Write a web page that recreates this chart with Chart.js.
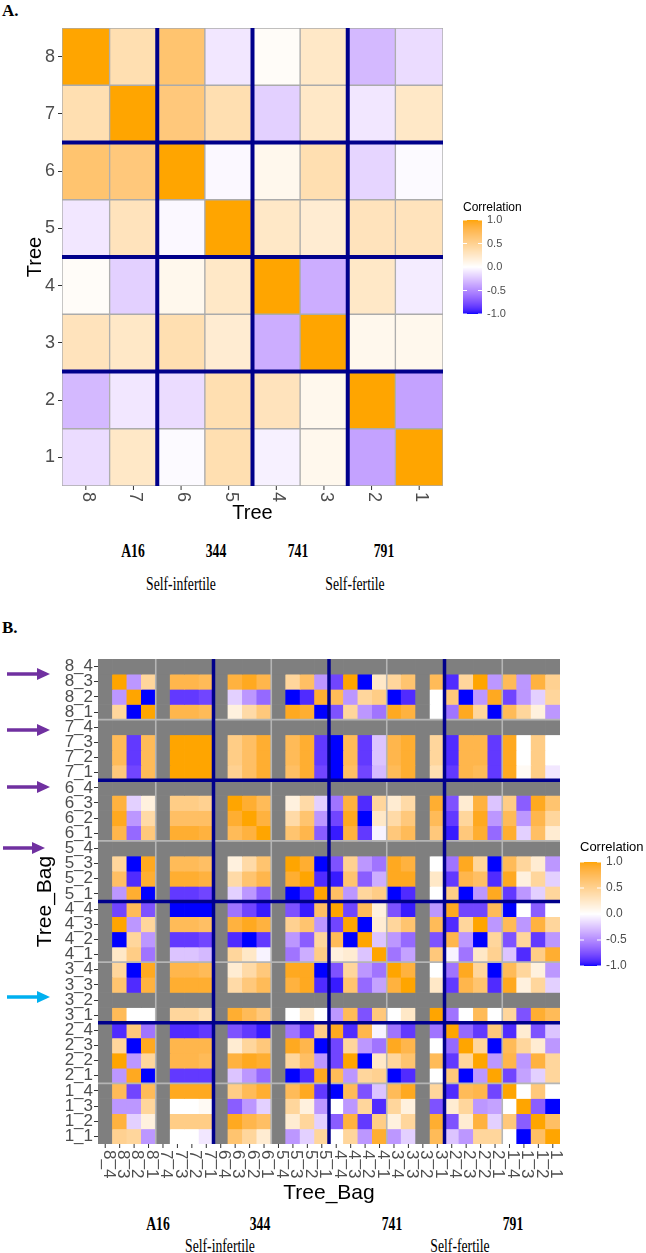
<!DOCTYPE html>
<html>
<head>
<meta charset="utf-8">
<script src="https://cdn.jsdelivr.net/npm/chart.js@4.4.0/dist/chart.umd.min.js"></script>
<style>
  body { margin: 0; background: #fff; width: 646px; height: 1253px; position: relative; overflow: hidden; }
  canvas { position: absolute; left: 0; }
  #chartA { top: 0; }
  #chartB { top: 640px; }
  .txt { position: absolute; font-family: "Liberation Serif", "Times New Roman", serif; font-size: 18px; color: #000;
         white-space: nowrap; transform: translate(-50%, -50%) scaleX(0.76); }
  .bold { font-weight: bold; }
  .panel { position: absolute; left: 2px; font-family: "Liberation Serif", "Times New Roman", serif; font-weight: bold; font-size: 17px; }
  svg { position: absolute; left: 0; top: 0; }
</style>
</head>
<body>
<div class="panel" style="top:1px">A.</div>
<canvas id="chartA" width="646" height="530"></canvas>

<div class="txt bold" style="left:133px; top:551px">A16</div>
<div class="txt bold" style="left:216px; top:551px">344</div>
<div class="txt bold" style="left:298px; top:551px">741</div>
<div class="txt bold" style="left:384px; top:551px">791</div>
<div class="txt" style="left:181px; top:584px">Self-infertile</div>
<div class="txt" style="left:355px; top:584px">Self-fertile</div>

<div class="panel" style="top:618px">B.</div>
<canvas id="chartB" width="646" height="570"></canvas>

<div class="txt bold" style="left:158px; top:1224px">A16</div>
<div class="txt bold" style="left:260px; top:1224px">344</div>
<div class="txt bold" style="left:392px; top:1224px">741</div>
<div class="txt bold" style="left:513px; top:1224px">791</div>
<div class="txt" style="left:220px; top:1246px">Self-infertile</div>
<div class="txt" style="left:460px; top:1246px">Self-fertile</div>

<svg width="646" height="1253">
  <g fill="#7030A0" stroke="#7030A0">
    <line x1="7" y1="674" x2="40" y2="674" stroke-width="3.5"/><polygon points="37,668 50,674 37,680" stroke="none"/>
    <line x1="7" y1="730" x2="40" y2="730" stroke-width="3.5"/><polygon points="37,724 50,730 37,736" stroke="none"/>
    <line x1="7" y1="787" x2="40" y2="787" stroke-width="3.5"/><polygon points="37,781 50,787 37,793" stroke="none"/>
    <line x1="3" y1="848" x2="35" y2="848" stroke-width="3.5"/><polygon points="32,842 45,848 32,854" stroke="none"/>
  </g>
  <g fill="#00B0F0" stroke="#00B0F0">
    <line x1="7" y1="997" x2="40" y2="997" stroke-width="3.5"/><polygon points="37,991 50,997 37,1003" stroke="none"/>
  </g>
</svg>

<script>
const FONT = '"Liberation Sans", Arial, sans-serif';
const NA = null;
const NA_COLOR = '#7F7F7F';
const NAVY = '#00008B';

// Panel A: tree x tree correlations (rows top to bottom = trees 8..1, columns left to right = trees 8..1)
const treeLabels = ['8', '7', '6', '5', '4', '3', '2', '1'];
const tree8 = [1, 0.35, 0.65, -0.1, 0.03, 0.25, -0.3, -0.15];
const tree7 = [0.35, 1, 0.6, 0.35, -0.2, 0.25, -0.1, 0.25];
const tree6 = [0.65, 0.6, 1, -0.03, 0.08, 0.35, -0.18, -0.02];
const tree5 = [-0.1, 0.3, -0.03, 1, 0.25, 0.2, 0.3, 0.3];
const tree4 = [0.03, -0.2, 0.08, 0.25, 1, -0.35, 0.25, -0.08];
const tree3 = [0.3, 0.25, 0.35, 0.2, -0.35, 1, 0.08, 0.08];
const tree2 = [-0.3, -0.1, -0.15, 0.35, 0.3, 0.08, 1, -0.4];
const tree1 = [-0.15, 0.25, -0.02, 0.35, -0.06, 0.08, -0.4, 1];
const treeCorr = [tree8, tree7, tree6, tree5, tree4, tree3, tree2, tree1];

// Panel B: tree_bag x tree_bag correlations
const bagLabels = ['8_4', '8_3', '8_2', '8_1', '7_4', '7_3', '7_2', '7_1',
                   '6_4', '6_3', '6_2', '6_1', '5_4', '5_3', '5_2', '5_1',
                   '4_4', '4_3', '4_2', '4_1', '3_4', '3_3', '3_2', '3_1',
                   '2_4', '2_3', '2_2', '2_1', '1_4', '1_3', '1_2', '1_1'];

// rows 8_4 .. 5_1, all 32 columns
const bagUpper = [
  [NA, NA, NA, NA, NA, NA, NA, NA, NA, NA, NA, NA, NA, NA, NA, NA, NA, NA, NA, NA, NA, NA, NA, NA, NA, NA, NA, NA, NA, NA, NA, NA],
  [NA, 1, -0.45, 0.45, NA, 0.8, 0.8, 0.75, NA, 0.85, 0.95, 0.8, NA, 0.45, 0.7, -0.45, -0.8, 1, -1, 0.25, 0.45, 0.65, NA, 0.75, -0.9, 0.45, 1, -0.45, 0.75, -0.45, 0.85, 0.5],
  [NA, -0.45, 1, -1, NA, -0.85, -0.85, -0.8, NA, -0.2, -0.45, -0.65, NA, -1, -0.9, 0.9, 0.75, -0.45, 0.45, 0.55, -1, -0.9, NA, 0, 0.6, -1, -0.45, 0.95, -0.8, -0.45, -0.2, 0.45],
  [NA, 0.45, -1, 1, NA, 0.8, 0.8, 0.75, NA, 0.15, 0.4, 0.6, NA, 0.95, 0.9, -1, -0.75, 0.45, -0.45, -0.6, 0.95, 0.85, NA, 0, -0.6, 0.95, 0.45, -1, 0.75, 0.45, 0.15, -0.45],
  [NA, NA, NA, NA, NA, NA, NA, NA, NA, NA, NA, NA, NA, NA, NA, NA, NA, NA, NA, NA, NA, NA, NA, NA, NA, NA, NA, NA, NA, NA, NA, NA],
  [NA, 0.75, -0.85, 0.75, NA, 1, 1, 1, NA, 0.55, 0.7, 0.9, NA, 0.75, 0.9, -0.85, -1, 0.75, -0.85, -0.25, 0.8, 0.9, NA, 0.45, -0.9, 0.8, 0.8, -0.85, 0.95, 0, 0.55, 0],
  [NA, 0.75, -0.85, 0.75, NA, 1, 1, 1, NA, 0.55, 0.7, 0.9, NA, 0.75, 0.9, -0.85, -1, 0.75, -0.85, -0.25, 0.8, 0.9, NA, 0.45, -0.9, 0.8, 0.8, -0.85, 0.95, 0, 0.55, 0],
  [NA, 0.6, -0.8, 0.75, NA, 1, 1, 1, NA, 0.5, 0.7, 0.9, NA, 0.7, 0.9, -0.8, -1, 0.7, -0.8, -0.3, 0.75, 0.9, NA, 0.35, -0.85, 0.8, 0.75, -0.85, 0.95, 0.05, 0.55, -0.1],
  [NA, NA, NA, NA, NA, NA, NA, NA, NA, NA, NA, NA, NA, NA, NA, NA, NA, NA, NA, NA, NA, NA, NA, NA, NA, NA, NA, NA, NA, NA, NA, NA],
  [NA, 0.85, -0.2, 0.15, NA, 0.55, 0.55, 0.5, NA, 1, 0.9, 0.75, NA, 0.15, 0.4, -0.2, -0.6, 0.85, -0.9, 0.45, 0.2, 0.4, NA, 0.9, -0.75, 0.2, 0.85, -0.25, 0.55, -0.7, 0.95, 0.65],
  [NA, 0.95, -0.45, 0.4, NA, 0.7, 0.7, 0.7, NA, 0.9, 1, 0.85, NA, 0.4, 0.65, -0.45, -0.8, 0.95, -1, 0.25, 0.4, 0.6, NA, 0.75, -0.85, 0.45, 0.95, -0.45, 0.75, -0.45, 0.8, 0.45],
  [NA, 0.8, -0.65, 0.6, NA, 0.9, 0.9, 0.85, NA, 0.75, 0.85, 1, NA, 0.65, 0.8, -0.7, -0.95, 0.85, -0.85, -0.05, 0.6, 0.75, NA, 0.6, -0.95, 0.6, 0.9, -0.65, 0.9, -0.2, 0.7, 0.2],
  [NA, NA, NA, NA, NA, NA, NA, NA, NA, NA, NA, NA, NA, NA, NA, NA, NA, NA, NA, NA, NA, NA, NA, NA, NA, NA, NA, NA, NA, NA, NA, NA],
  [NA, 0.45, -1, 0.95, NA, 0.75, 0.75, 0.7, NA, 0.15, 0.4, 0.65, NA, 1, 0.9, -1, -0.75, 0.5, -0.45, -0.6, 0.95, 0.85, NA, 0, -0.6, 0.95, 0.45, -1, 0.75, 0.45, 0.2, -0.45],
  [NA, 0.7, -0.9, 0.9, NA, 0.9, 0.9, 0.85, NA, 0.4, 0.65, 0.8, NA, 0.9, 1, -0.9, -0.95, 0.65, -0.7, -0.35, 0.95, 0.95, NA, 0.25, -0.85, 0.8, 0.7, -0.9, 0.95, 0.15, 0.45, -0.2],
  [NA, -0.45, 0.9, -1, NA, -0.85, -0.85, -0.8, NA, -0.2, -0.45, -0.7, NA, -1, -0.9, 1, 0.7, -0.45, 0.45, 0.55, -1, -0.9, NA, 0, 0.55, -1, -0.45, 0.95, -0.85, -0.45, -0.2, 0.45]
];

// rows 4_4 .. 1_1, columns 4_4 .. 1_1 (the rest is the mirror of bagUpper)
const bagLowerRight = [
  [1, -0.8, 0.75, 0.15, -0.75, -0.95, NA, -0.45, 0.95, -0.8, -0.8, 0.75, -1, 0, -0.7, 0],
  [-0.8, 1, -1, 0.2, 0.45, 0.65, NA, 0.75, -0.9, 0.45, 1, -0.45, 0.75, -0.45, 0.85, 0.45],
  [0.75, -1, 1, -0.25, -0.45, -0.65, NA, -0.75, 0.8, -0.45, -1, 0.45, -0.75, 0.45, -0.85, -0.45],
  [0.15, 0.2, -0.25, 1, -0.6, -0.4, NA, 0.6, -0.05, -0.6, 0.25, 0.5, -0.25, -0.9, 0.55, 0.9],
  [-0.75, 0.45, -0.45, -0.6, 1, 0.85, NA, 0, -0.6, 0.95, 0.45, -1, 0.75, 0.45, 0.15, -0.45],
  [-0.95, 0.65, -0.65, -0.4, 0.85, 1, NA, 0.25, -0.85, 0.8, 0.65, -0.9, 0.95, 0.15, 0.45, -0.2],
  [NA, NA, NA, NA, NA, NA, NA, NA, NA, NA, NA, NA, NA, NA, NA, NA],
  [-0.45, 0.75, -0.75, 0.6, 0, 0.25, NA, 1, -0.6, 0, 0.75, 0, 0.45, -0.75, 0.9, 0.75],
  [0.95, -0.9, 0.8, -0.05, -0.6, -0.85, NA, -0.6, 1, -0.65, -0.85, 0.6, -0.9, 0.2, -0.75, -0.25],
  [-0.8, 0.45, -0.45, -0.6, 0.95, 0.8, NA, 0, -0.65, 1, 0.45, -1, 0.75, 0.45, 0.2, -0.45],
  [-0.8, 1, -1, 0.25, 0.45, 0.65, NA, 0.75, -0.85, 0.45, 1, -0.45, 0.8, -0.45, 0.85, 0.45],
  [0.75, -0.45, 0.45, 0.5, -1, -0.9, NA, 0, 0.6, -1, -0.45, 1, -0.8, -0.4, -0.2, 0.45],
  [-1, 0.75, -0.75, -0.25, 0.75, 0.95, NA, 0.45, -0.9, 0.75, 0.8, -0.8, 1, 0, 0.6, 0],
  [0, -0.45, 0.45, -0.9, 0.45, 0.15, NA, -0.75, 0.2, 0.45, -0.45, -0.4, 0, 1, -0.7, -1],
  [-0.7, 0.85, -0.85, 0.55, 0.15, 0.45, NA, 0.9, -0.75, 0.2, 0.85, -0.2, 0.6, -0.7, 1, 0.7],
  [0, 0.45, -0.45, 0.9, -0.45, -0.2, NA, 0.75, -0.25, -0.45, 0.45, 0.45, 0, -1, 0.7, 1]
];

const legendBreaks = [1, 0.5, 0, -0.5, -1];

const bagCorr = bagLabels.map((_, i) => bagLabels.map((_, j) => {
    if (i < 16) return bagUpper[i][j];
    if (j < 16) return bagUpper[j][i];
    return bagLowerRight[i - 16][j - 16];
}));

// blue - white - orange, mixed in Lab like ggplot's gradient2
function toLab(hex) {
    const c = [1, 3, 5].map(i => parseInt(hex.slice(i, i + 2), 16) / 255)
        .map(u => u <= 0.04045 ? u / 12.92 : Math.pow((u + 0.055) / 1.055, 2.4));
    const X = (0.4124 * c[0] + 0.3576 * c[1] + 0.1805 * c[2]) / 0.95047;
    const Y = 0.2126 * c[0] + 0.7152 * c[1] + 0.0722 * c[2];
    const Z = (0.0193 * c[0] + 0.1192 * c[1] + 0.9505 * c[2]) / 1.08883;
    const f = t => t > 0.008856 ? Math.cbrt(t) : 7.787 * t + 16 / 116;
    return [116 * f(Y) - 16, 500 * (f(X) - f(Y)), 200 * (f(Y) - f(Z))];
}
function fromLab(L, a, b) {
    const fy = (L + 16) / 116, fx = fy + a / 500, fz = fy - b / 200;
    const inv = t => t * t * t > 0.008856 ? t * t * t : (t - 16 / 116) / 7.787;
    const X = inv(fx) * 0.95047, Y = inv(fy), Z = inv(fz) * 1.08883;
    const lin = [3.2406 * X - 1.5372 * Y - 0.4986 * Z, -0.9689 * X + 1.8758 * Y + 0.0415 * Z, 0.0557 * X - 0.2040 * Y + 1.0570 * Z];
    const g = lin.map(u => { u = Math.min(1, Math.max(0, u)); return u <= 0.0031308 ? 12.92 * u : 1.055 * Math.pow(u, 1 / 2.4) - 0.055; });
    return 'rgb(' + g.map(v => Math.round(v * 255)).join(',') + ')';
}
const LAB_LOW = toLab('#0000FF'), LAB_MID = toLab('#FFFFFF'), LAB_HIGH = toLab('#FFA500');
function corrColor(v) {
    if (v === null) return NA_COLOR;
    const end = v < 0 ? LAB_LOW : LAB_HIGH;
    const t = Math.min(1, Math.abs(v));
    return fromLab(...LAB_MID.map((m, k) => m + (end[k] - m) * t));
}

function decoPlugin(opt) {
    return {
        id: 'deco',
        afterDatasetsDraw(chart) {
            const { ctx, chartArea: a, scales: { x, y } } = chart;
            const labels = chart.data.labels;
            const n = labels.length;
            const colEdge = k => (x.getPixelForValue(k - 1) + x.getPixelForValue(k)) / 2;
            const rowEdge = k => y.getPixelForValue(n - k);
            ctx.save();
            const drawLines = (list, color, w) => {
                ctx.strokeStyle = color;
                ctx.lineWidth = w;
                list.forEach(k => {
                    ctx.beginPath(); ctx.moveTo(colEdge(k), a.top); ctx.lineTo(colEdge(k), a.bottom); ctx.stroke();
                    ctx.beginPath(); ctx.moveTo(a.left, rowEdge(k)); ctx.lineTo(a.right, rowEdge(k)); ctx.stroke();
                });
            };
            if (opt.lightLines) drawLines(opt.lightLines, '#B5B5B5', 1.6);
            drawLines(opt.navyLines, NAVY, opt.navyWidth);

            // x ticks and labels, rotated clockwise
            ctx.font = opt.tickSize + 'px ' + FONT;
            ctx.fillStyle = '#4D4D4D';
            ctx.strokeStyle = '#333';
            ctx.lineWidth = 1;
            labels.forEach((lab, i) => {
                const px = x.getPixelForValue(i);
                ctx.beginPath(); ctx.moveTo(px, a.bottom); ctx.lineTo(px, a.bottom + 4); ctx.stroke();
                ctx.save();
                ctx.translate(px + opt.xLabShift, a.bottom + 6);
                ctx.rotate(Math.PI / 2);
                ctx.textAlign = 'left';
                ctx.textBaseline = 'middle';
                ctx.fillText(lab, 0, 0);
                ctx.restore();
            });

            // axis titles
            ctx.fillStyle = '#000';
            ctx.font = opt.titleSize + 'px ' + FONT;
            ctx.textAlign = 'center';
            ctx.textBaseline = 'middle';
            ctx.fillText(opt.title, (a.left + a.right) / 2, opt.xTitleY);
            ctx.save();
            ctx.translate(opt.yTitleX, (a.top + a.bottom) / 2);
            ctx.rotate(-Math.PI / 2);
            ctx.fillText(opt.title, 0, 0);
            ctx.restore();

            // colour bar legend
            const L = opt.legend;
            ctx.font = L.titleSize + 'px ' + FONT;
            ctx.textAlign = 'left';
            ctx.fillText('Correlation', L.x, L.titleY);
            for (let py = L.top; py < L.bottom; py++) {
                ctx.fillStyle = corrColor(1 - 2 * (py - L.top + 0.5) / (L.bottom - L.top));
                ctx.fillRect(L.x, py, L.w, 1);
            }
            ctx.font = L.labelSize + 'px ' + FONT;
            legendBreaks.forEach(b => {
                const py = L.top + (1 - b) / 2 * (L.bottom - L.top);
                ctx.strokeStyle = '#fff';
                ctx.beginPath(); ctx.moveTo(L.x, py); ctx.lineTo(L.x + 4, py); ctx.stroke();
                ctx.beginPath(); ctx.moveTo(L.x + L.w - 4, py); ctx.lineTo(L.x + L.w, py); ctx.stroke();
                ctx.fillStyle = '#4D4D4D';
                ctx.fillText(b.toFixed(1), L.x + L.w + 5, py);
            });
            ctx.restore();
        }
    };
}

function heatChart(id, labels, matrix, opt) {
    const n = labels.length;
    return new Chart(document.getElementById(id), {
        type: 'bar',
        data: {
            labels: labels,
            datasets: matrix.map((row, i) => ({
                data: row.map(() => [n - 1 - i, n - i]),
                backgroundColor: row.map(corrColor),
                borderColor: opt.cellBorder || 'rgba(0,0,0,0)',
                borderWidth: opt.cellBorder ? 1 : 0,
                borderSkipped: false,
                grouped: false,
                barPercentage: 1,
                categoryPercentage: 1
            }))
        },
        options: {
            responsive: false,
            animation: false,
            layout: { padding: opt.padding },
            plugins: { legend: { display: false }, tooltip: { enabled: false } },
            scales: {
                x: {
                    offset: true,
                    ticks: { display: false },
                    grid: { display: false },
                    border: { display: false },
                    afterFit: s => { s.height = opt.xHeight; }
                },
                y: {
                    min: 0,
                    max: n,
                    afterBuildTicks: s => { s.ticks = labels.map((_, k) => ({ value: k + 0.5 })); },
                    ticks: {
                        autoSkip: false,
                        padding: opt.yPad,
                        color: '#4D4D4D',
                        font: { size: opt.tickSize, family: FONT },
                        callback: (v, k) => labels[n - 1 - k]
                    },
                    grid: { drawOnChartArea: false, tickLength: 4, color: '#333' },
                    border: { display: false },
                    afterFit: s => { s.width = opt.yWidth; }
                }
            }
        },
        plugins: [decoPlugin(opt)]
    });
}

heatChart('chartA', treeLabels, treeCorr, {
    padding: { top: 28, right: 203, bottom: 0, left: 0 },
    yWidth: 62, xHeight: 44, yPad: 3,
    tickSize: 18, titleSize: 20, title: 'Tree',
    xTitleY: 513, yTitleX: 35, xLabShift: 2,
    cellBorder: '#ABABAB',
    navyLines: [2, 4, 6], navyWidth: 4,
    legend: { x: 463, top: 220, bottom: 314, w: 19, titleY: 208, titleSize: 12, labelSize: 11 }
});

heatChart('chartB', bagLabels, bagCorr, {
    padding: { top: 19, right: 86, bottom: 0, left: 0 },
    yWidth: 98, xHeight: 66, yPad: 1,
    tickSize: 17, titleSize: 21, title: 'Tree_Bag',
    xTitleY: 553, yTitleX: 45, xLabShift: 3,
    lightLines: [4, 12, 20, 28],
    navyLines: [8, 16, 24], navyWidth: 3.5,
    legend: { x: 580, top: 222, bottom: 326, w: 21, titleY: 207, titleSize: 13, labelSize: 12 }
});
</script>
</body>
</html>
